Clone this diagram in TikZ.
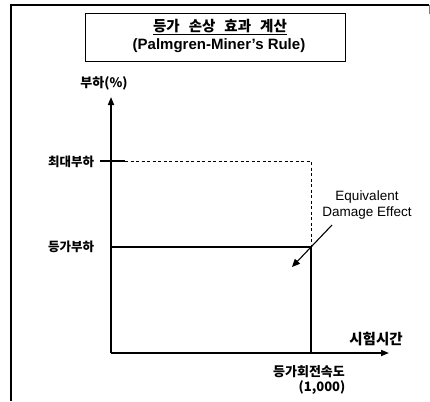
\documentclass[tikz,border=0pt]{standalone}
\usepackage{fontspec}
\setmainfont{Liberation Sans}
\newfontfamily\kr{Noto Sans CJK KR}
\usetikzlibrary{arrows.meta}
\begin{document}
\begin{tikzpicture}[x=1pt,y=-1pt,
  krlab/.style={font=\kr\bfseries\fontsize{#1}{#1}\selectfont, inner sep=0pt},
  axis/.style={line width=1.6pt, -{Triangle[length=8pt,width=6pt]}},
  plain/.style={line width=1.2pt},
  dash line/.style={line width=1pt, dash pattern=on 3pt off 2.5pt}]
\useasboundingbox (0,0) rectangle (430,401);
% frame
\coordinate (fbl) at (11,401);
\coordinate (ftl) at (11,5);
\coordinate (ftr) at (429,5);
\coordinate (frs) at (429,14);
\draw[line width=2pt] (fbl) -- (ftl) -- (ftr);
\draw[line width=0.6pt, gray] (ftr) -- (frs);
% title
\node[draw, line width=0.9pt, minimum width=260pt, minimum height=48pt, inner sep=0pt] (title) at (215,37) {};
\node[krlab=14.5] (t1) at (220,27) {\underline{등가\hspace{9pt}손상\hspace{9pt}효과\hspace{9pt}계산}};
\node[font=\bfseries\fontsize{15}{15}\selectfont, inner sep=0pt] (t2) at (219,46) {(Palmgren-Miner's Rule)};
% axes
\coordinate (O) at (111,353);
\coordinate (ytip) at (111,97);
\coordinate (xtip) at (389,353);
\draw[axis] (O) -- (ytip);
\draw[axis] (O) -- (xtip);
\node[krlab=13] (ylab) at (104,83) {부하(\%)};
\node[krlab=14.5] (xlab) at (376,339) {시험시간};
% max load
\coordinate (mt) at (100,161);
\coordinate (ms) at (125,161);
\coordinate (mr) at (311,161);
\coordinate (eq) at (311,247);
\coordinate (el) at (111,247);
\coordinate (eb) at (311,353);
\draw[plain] (mt) -- (ms);
\draw[dash line] (ms) -- (mr) -- (eq);
\draw[plain] (el) -- (eq) -- (eb);
\node[krlab=12.5] (maxlab) at (71,162) {최대부하};
\node[krlab=12.5] (eqlab) at (71,247) {등가부하};
\node[krlab=13] (rpm) at (309,372) {등가회전속도};
\node[krlab=13] (rpmv) at (322,388) {(1,000)};
% annotation
\node[font=\fontsize{13.5}{16}\selectfont, align=center, inner sep=0pt] (ede) at (367,205) {Equivalent\\Damage Effect};
\coordinate (as) at (332,225);
\coordinate (ae) at (292,267);
\draw[line width=1.1pt, -{Triangle[length=8pt,width=7pt]}] (as) -- (ae);
\end{tikzpicture}
\end{document}
